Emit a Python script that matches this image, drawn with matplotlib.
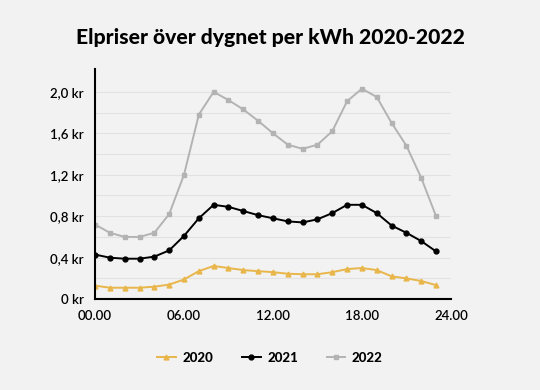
import matplotlib.pyplot as plt

# timmar och priser (kr/kWh)
timmar = list(range(24))
pris_2020 = [0.13, 0.11, 0.11, 0.11, 0.12, 0.14, 0.19, 0.27, 0.32, 0.30, 0.28, 0.27,
             0.26, 0.245, 0.24, 0.24, 0.26, 0.29, 0.30, 0.28, 0.22, 0.20, 0.175, 0.135]
pris_2021 = [0.43, 0.40, 0.39, 0.39, 0.41, 0.47, 0.61, 0.78, 0.91, 0.89, 0.85, 0.81,
             0.78, 0.75, 0.74, 0.77, 0.83, 0.91, 0.91, 0.83, 0.71, 0.64, 0.56, 0.46]
pris_2022 = [0.72, 0.64, 0.60, 0.60, 0.64, 0.82, 1.20, 1.78, 2.00, 1.92, 1.83, 1.72,
             1.60, 1.49, 1.45, 1.49, 1.62, 1.91, 2.03, 1.95, 1.70, 1.48, 1.17, 0.80]

x_ticks = [0, 6, 12, 18, 24]
x_labels = ['00.00', '06.00', '12.00', '18.00', '24.00']
y_ticks = [0, 0.4, 0.8, 1.2, 1.6, 2.0]
y_labels = ['0 kr', '0,4 kr', '0,8 kr', '1,2 kr', '1,6 kr', '2,0 kr']

plt.rcParams['font.family'] = ['Lato', 'DejaVu Sans']
bg = '#f2f2f2'

fig = plt.figure(figsize=(5.4, 3.9), dpi=100, facecolor=bg)
ax = fig.add_axes([0.176, 0.233, 0.659, 0.59], facecolor=bg)

ax.plot(timmar, pris_2020, color='#e8b64a', marker='^', markersize=3.5, lw=1.4, label='2020')
ax.plot(timmar, pris_2021, color='black', marker='o', markersize=3.5, lw=1.4, label='2021')
ax.plot(timmar, pris_2022, color='#b3b3b3', marker='s', markersize=3.5, lw=1.4, label='2022')

ax.set_xlim(0, 24)
ax.set_ylim(0, 2.22)
ax.set_xticks(x_ticks)
ax.set_xticklabels(x_labels, fontsize=9.5, fontweight='semibold')
ax.set_yticks(y_ticks)
ax.set_yticklabels(y_labels, fontsize=9.5, fontweight='semibold')
ax.set_yticks([0.2, 0.6, 1.0, 1.4, 1.8], minor=True)
ax.tick_params(which='both', length=0, pad=8)
ax.grid(True, which='both', axis='y', color='#e2e2e2', lw=0.8)
ax.set_axisbelow(True)

for s in ['top', 'right']:
    ax.spines[s].set_visible(False)
ax.spines['left'].set_linewidth(1.5)
ax.spines['bottom'].set_linewidth(1.5)

fig.text(0.5, 0.905, 'Elpriser över dygnet per kWh 2020-2022', ha='center', va='center',
         fontsize=15.2, fontweight='black')

fig.legend(loc='center', bbox_to_anchor=(0.5, 0.082), ncol=3, frameon=False,
           handlelength=1.4, columnspacing=2.2, handletextpad=0.5,
           prop={'size': 9.5, 'weight': 'black'})

fig.savefig('out.png', dpi=100, facecolor=bg)
